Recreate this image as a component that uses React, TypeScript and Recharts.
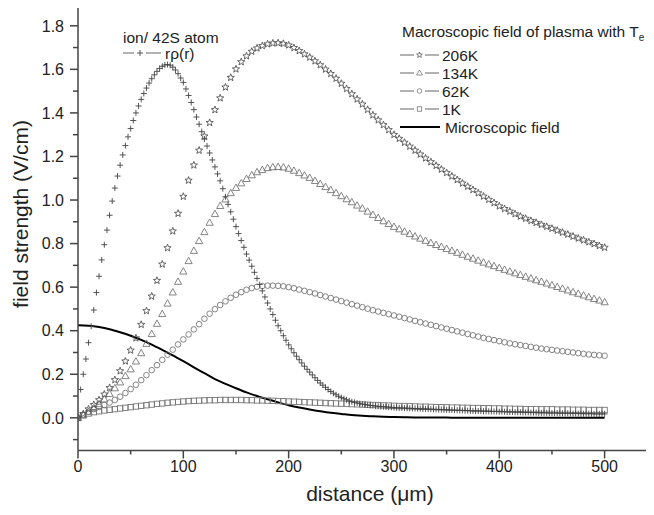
import React from 'react';
import { ComposedChart, Line, Scatter, XAxis, YAxis, ReferenceLine } from 'recharts';

// distance grids (µm)
const distanceFine = [
  0, 2.5, 5, 7.5, 10, 12.5, 15, 17.5, 20, 22.5,
  25, 27.5, 30, 32.5, 35, 37.5, 40, 42.5, 45, 47.5,
  50, 52.5, 55, 57.5, 60, 62.5, 65, 67.5, 70, 72.5,
  75, 77.5, 80, 82.5, 85, 87.5, 90, 92.5, 95, 97.5,
  100, 102.5, 105, 107.5, 110, 112.5, 115, 117.5, 120, 122.5,
  125, 127.5, 130, 132.5, 135, 137.5, 140, 142.5, 145, 147.5,
  150, 152.5, 155, 157.5, 160, 162.5, 165, 167.5, 170, 172.5,
  175, 177.5, 180, 182.5, 185, 187.5, 190, 192.5, 195, 197.5,
  200, 202.5, 205, 207.5, 210, 212.5, 215, 217.5, 220, 222.5,
  225, 227.5, 230, 232.5, 235, 237.5, 240, 242.5, 245, 247.5,
  250, 252.5, 255, 257.5, 260, 262.5, 265, 267.5, 270, 272.5,
  275, 277.5, 280, 282.5, 285, 287.5, 290, 292.5, 295, 297.5,
  300, 302.5, 305, 307.5, 310, 312.5, 315, 317.5, 320, 322.5,
  325, 327.5, 330, 332.5, 335, 337.5, 340, 342.5, 345, 347.5,
  350, 352.5, 355, 357.5, 360, 362.5, 365, 367.5, 370, 372.5,
  375, 377.5, 380, 382.5, 385, 387.5, 390, 392.5, 395, 397.5,
  400, 402.5, 405, 407.5, 410, 412.5, 415, 417.5, 420, 422.5,
  425, 427.5, 430, 432.5, 435, 437.5, 440, 442.5, 445, 447.5,
  450, 452.5, 455, 457.5, 460, 462.5, 465, 467.5, 470, 472.5,
  475, 477.5, 480, 482.5, 485, 487.5, 490, 492.5, 495, 497.5,
  500,
];

const distance = [
  0, 5, 10, 15, 20, 25, 30, 35, 40, 45,
  50, 55, 60, 65, 70, 75, 80, 85, 90, 95,
  100, 105, 110, 115, 120, 125, 130, 135, 140, 145,
  150, 155, 160, 165, 170, 175, 180, 185, 190, 195,
  200, 205, 210, 215, 220, 225, 230, 235, 240, 245,
  250, 255, 260, 265, 270, 275, 280, 285, 290, 295,
  300, 305, 310, 315, 320, 325, 330, 335, 340, 345,
  350, 355, 360, 365, 370, 375, 380, 385, 390, 395,
  400, 405, 410, 415, 420, 425, 430, 435, 440, 445,
  450, 455, 460, 465, 470, 475, 480, 485, 490, 495,
  500,
];

const distanceLine = [
  0, 10, 20, 30, 40, 50, 60, 70, 80, 90,
  100, 110, 120, 130, 140, 150, 160, 170, 180, 190,
  200, 210, 220, 230, 240, 250, 260, 270, 280, 290,
  300, 310, 320, 330, 340, 350, 360, 370, 380, 390,
  400, 410, 420, 430, 440, 450, 460, 470, 480, 490,
  500,
];

// r·ρ(r) for ion / 42S atom (on distanceFine)
const rhoR = [
  0, 0.13, 0.2, 0.27, 0.345, 0.42, 0.495, 0.575, 0.65, 0.725,
  0.795, 0.862, 0.93, 0.995, 1.055, 1.11, 1.16, 1.207, 1.25, 1.29,
  1.328, 1.365, 1.4, 1.432, 1.462, 1.489, 1.514, 1.537, 1.557, 1.575,
  1.591, 1.604, 1.614, 1.62, 1.622, 1.619, 1.61, 1.597, 1.58, 1.56,
  1.54, 1.51, 1.48, 1.448, 1.415, 1.381, 1.348, 1.314, 1.28, 1.248,
  1.216, 1.184, 1.152, 1.12, 1.088, 1.052, 1.015, 0.98, 0.946, 0.912,
  0.878, 0.846, 0.814, 0.783, 0.752, 0.724, 0.696, 0.668, 0.64, 0.612,
  0.583, 0.555, 0.527, 0.5, 0.474, 0.448, 0.423, 0.4, 0.377, 0.356,
  0.335, 0.317, 0.299, 0.283, 0.267, 0.252, 0.237, 0.223, 0.21, 0.197,
  0.184, 0.172, 0.16, 0.15, 0.14, 0.13, 0.121, 0.113, 0.106, 0.099,
  0.093, 0.088, 0.083, 0.078, 0.074, 0.071, 0.068, 0.065, 0.063, 0.061,
  0.059, 0.057, 0.056, 0.054, 0.053, 0.052, 0.051, 0.05, 0.049, 0.048,
  0.047, 0.046, 0.046, 0.045, 0.045, 0.044, 0.044, 0.043, 0.043, 0.042,
  0.042, 0.041, 0.041, 0.04, 0.04, 0.039, 0.039, 0.038, 0.038, 0.037,
  0.037, 0.036, 0.036, 0.035, 0.035, 0.034, 0.034, 0.033, 0.033, 0.032,
  0.032, 0.031, 0.031, 0.031, 0.03, 0.03, 0.03, 0.029, 0.029, 0.029,
  0.028, 0.028, 0.028, 0.027, 0.027, 0.027, 0.026, 0.026, 0.026, 0.025,
  0.025, 0.025, 0.024, 0.024, 0.024, 0.023, 0.023, 0.023, 0.023, 0.022,
  0.022, 0.022, 0.022, 0.021, 0.021, 0.021, 0.021, 0.02, 0.02, 0.02,
  0.02, 0.019, 0.019, 0.019, 0.019, 0.019, 0.018, 0.018, 0.018, 0.018,
  0.018,
];

// Macroscopic field, Te = 206K (on distance)
const field206K = [
  0, 0.018, 0.04, 0.06, 0.082, 0.108, 0.138, 0.174, 0.215, 0.26,
  0.31, 0.366, 0.428, 0.491, 0.558, 0.63, 0.705, 0.78, 0.857, 0.938,
  1.016, 1.09, 1.16, 1.228, 1.293, 1.355, 1.414, 1.468, 1.518, 1.562,
  1.601, 1.634, 1.661, 1.682, 1.697, 1.708, 1.716, 1.72, 1.721, 1.718,
  1.711, 1.699, 1.685, 1.67, 1.655, 1.638, 1.62, 1.6, 1.58, 1.558,
  1.535, 1.511, 1.487, 1.463, 1.44, 1.415, 1.39, 1.367, 1.345, 1.322,
  1.3, 1.282, 1.264, 1.246, 1.228, 1.21, 1.192, 1.175, 1.158, 1.141,
  1.125, 1.109, 1.093, 1.077, 1.062, 1.047, 1.032, 1.017, 1.002, 0.987,
  0.972, 0.96, 0.948, 0.936, 0.925, 0.915, 0.905, 0.896, 0.887, 0.878,
  0.869, 0.86, 0.851, 0.842, 0.833, 0.824, 0.816, 0.807, 0.799, 0.79,
  0.782,
];

// Te = 134K
const field134K = [
  0, 0.012, 0.028, 0.045, 0.063, 0.085, 0.11, 0.136, 0.163, 0.192,
  0.223, 0.259, 0.297, 0.34, 0.385, 0.432, 0.477, 0.525, 0.576, 0.625,
  0.672, 0.72, 0.767, 0.812, 0.853, 0.896, 0.936, 0.973, 1.003, 1.032,
  1.056, 1.077, 1.097, 1.114, 1.128, 1.138, 1.147, 1.151, 1.152, 1.15,
  1.144, 1.135, 1.124, 1.113, 1.102, 1.088, 1.074, 1.06, 1.046, 1.032,
  1.018, 1.004, 0.99, 0.975, 0.961, 0.947, 0.932, 0.918, 0.903, 0.89,
  0.877, 0.866, 0.855, 0.844, 0.833, 0.823, 0.813, 0.803, 0.794, 0.785,
  0.776, 0.767, 0.758, 0.749, 0.74, 0.731, 0.722, 0.713, 0.705, 0.697,
  0.688, 0.68, 0.672, 0.664, 0.656, 0.648, 0.64, 0.632, 0.625, 0.617,
  0.609, 0.601, 0.593, 0.585, 0.577, 0.57, 0.562, 0.554, 0.546, 0.539,
  0.531,
];

// Te = 62K
const field62K = [
  0, 0.014, 0.028, 0.04, 0.05, 0.059, 0.07, 0.082, 0.097, 0.114,
  0.132, 0.152, 0.173, 0.196, 0.219, 0.242, 0.266, 0.29, 0.313, 0.337,
  0.36, 0.383, 0.406, 0.43, 0.455, 0.478, 0.499, 0.518, 0.535, 0.551,
  0.565, 0.577, 0.588, 0.596, 0.602, 0.605, 0.607, 0.607, 0.606, 0.604,
  0.6, 0.595, 0.589, 0.583, 0.577, 0.571, 0.564, 0.557, 0.55, 0.543,
  0.536, 0.529, 0.522, 0.515, 0.508, 0.501, 0.494, 0.488, 0.482, 0.476,
  0.47, 0.464, 0.458, 0.452, 0.445, 0.439, 0.433, 0.427, 0.421, 0.415,
  0.409, 0.403, 0.397, 0.391, 0.385, 0.379, 0.373, 0.367, 0.362, 0.357,
  0.352, 0.347, 0.342, 0.338, 0.334, 0.33, 0.326, 0.322, 0.318, 0.315,
  0.312, 0.309, 0.306, 0.303, 0.3, 0.297, 0.294, 0.291, 0.289, 0.287,
  0.285,
];

// Te = 1K
const field1K = [
  0, 0.012, 0.02, 0.026, 0.03, 0.034, 0.037, 0.04, 0.043, 0.046,
  0.049, 0.052, 0.055, 0.058, 0.061, 0.064, 0.066, 0.069, 0.071, 0.073,
  0.075, 0.077, 0.078, 0.079, 0.08, 0.081, 0.081, 0.082, 0.082, 0.082,
  0.082, 0.082, 0.081, 0.081, 0.08, 0.08, 0.079, 0.078, 0.077, 0.076,
  0.075, 0.074, 0.073, 0.072, 0.071, 0.07, 0.069, 0.068, 0.067, 0.066,
  0.065, 0.064, 0.063, 0.062, 0.061, 0.06, 0.059, 0.058, 0.057, 0.056,
  0.055, 0.054, 0.054, 0.053, 0.052, 0.051, 0.051, 0.05, 0.049, 0.049,
  0.048, 0.047, 0.047, 0.046, 0.046, 0.045, 0.045, 0.044, 0.044, 0.043,
  0.043, 0.042, 0.042, 0.041, 0.041, 0.04, 0.04, 0.04, 0.039, 0.039,
  0.039, 0.038, 0.038, 0.038, 0.037, 0.037, 0.037, 0.036, 0.036, 0.036,
  0.036,
];

// Microscopic field (on distanceLine)
const microField = [
  0.425, 0.423, 0.417, 0.407, 0.393, 0.377, 0.358, 0.336, 0.312, 0.287,
  0.26, 0.232, 0.205, 0.178, 0.156, 0.136, 0.117, 0.1, 0.085, 0.071,
  0.058, 0.047, 0.038, 0.03, 0.023, 0.018, 0.013, 0.01, 0.007, 0.005,
  0.004, 0.003, 0.002, 0.001, 0.001, 0.001, 0.0005, 0.0005, 0.0005, 0.0005,
  0.0005, 0.0005, 0.0005, 0.0005, 0.0005, 0.0005, 0.0005, 0.0005, 0.0005, 0.0005,
  0.0005,
];

const yTicks = [-0.1, 0, 0.1, 0.2, 0.3, 0.4, 0.5, 0.6, 0.7, 0.8, 0.9, 1.0, 1.1, 1.2, 1.3, 1.4, 1.5, 1.6, 1.7, 1.8];
const xTicks = [0, 50, 100, 150, 200, 250, 300, 350, 400, 450, 500];

const legendTitle = 'Macroscopic field of plasma with T';
const legendLabels = ['206K', '134K', '62K', '1K', 'Microscopic field'];
const atomTitle = 'ion/ 42S atom';
const atomLabel = 'rρ(r)';

const toPoints = (xs: number[], ys: number[]) => ys.map((y, i) => ({ x: xs[i], y }));

const FONT = '"Liberation Sans", Arial, Helvetica, sans-serif';
const AXIS = '#444';
const TEXT = '#222';
const MARK = '#777';

const starPath = (cx: number, cy: number, R: number, r: number) => {
  let d = '';
  for (let i = 0; i < 10; i++) {
    const rad = i % 2 === 0 ? R : r;
    const a = -Math.PI / 2 + (i * Math.PI) / 5;
    d += (i === 0 ? 'M' : 'L') + (cx + rad * Math.cos(a)).toFixed(2) + ',' + (cy + rad * Math.sin(a)).toFixed(2);
  }
  return d + 'Z';
};

const StarMark = ({ cx, cy }: any) => (
  <path d={starPath(cx, cy, 3.8, 1.6)} fill="none" stroke="#555" strokeWidth={0.9} />
);
const TriMark = ({ cx, cy }: any) => (
  <path d={`M${cx},${cy - 3.8}L${cx + 3.6},${cy + 2.6}L${cx - 3.6},${cy + 2.6}Z`} fill="none" stroke={MARK} strokeWidth={0.9} />
);
const CircMark = ({ cx, cy }: any) => (
  <circle cx={cx} cy={cy} r={2.8} fill="none" stroke={MARK} strokeWidth={0.9} />
);
const SqMark = ({ cx, cy }: any) => (
  <rect x={cx - 2.7} y={cy - 2.7} width={5.4} height={5.4} fill="none" stroke={MARK} strokeWidth={0.9} />
);
const CrossMark = ({ cx, cy }: any) => (
  <path d={`M${cx - 3},${cy}H${cx + 3}M${cx},${cy - 3}V${cy + 3}`} fill="none" stroke="#444" strokeWidth={0.9} />
);

const YTick = (props: any) => {
  const { x, y, payload } = props;
  const v = payload.value as number;
  const major = Math.round(v * 10) % 2 === 0;
  return (
    <g>
      <line x1={x - (major ? 8 : 5)} x2={x} y1={y} y2={y} stroke={AXIS} strokeWidth={1.5} />
      {major && (
        <text x={x - 14} y={y} dy="0.36em" textAnchor="end" fontFamily={FONT} fontSize={16} fill={TEXT}>
          {v.toFixed(1)}
        </text>
      )}
    </g>
  );
};

const XTick = (props: any) => {
  const { x, y, payload } = props;
  const v = payload.value as number;
  const major = v % 100 === 0;
  return (
    <g>
      <line x1={x} x2={x} y1={y} y2={y + (major ? 8 : 4)} stroke={AXIS} strokeWidth={1.5} />
      {major && (
        <text x={x} y={y + 16} dy="0.36em" textAnchor="middle" fontFamily={FONT} fontSize={16} fill={TEXT}>
          {v}
        </text>
      )}
    </g>
  );
};

export default function App() {
  const d206 = toPoints(distance, field206K);
  const d134 = toPoints(distance, field134K);
  const d62 = toPoints(distance, field62K);
  const d1 = toPoints(distance, field1K);
  const dRho = toPoints(distanceFine, rhoR);
  const dMicro = toPoints(distanceLine, microField);

  const rowY = [55, 73, 91, 109, 127];

  return (
    <div style={{ position: 'relative', width: 654, height: 515, margin: '-8px 0 0 -8px', background: '#fff' }}>
      <ComposedChart width={654} height={515} margin={{ top: 4, right: 2, bottom: 14, left: 8 }}>
        <XAxis
          dataKey="x"
          type="number"
          domain={[0, 545]}
          ticks={xTicks}
          interval={0}
          allowDataOverflow
          tickSize={0}
          tickMargin={0}
          tickLine={false}
          tick={<XTick />}
          axisLine={{ stroke: AXIS, strokeWidth: 1.5 }}
          height={50.5}
          label={{
            content: () => (
              <text x={370} y={493} dy="0.36em" textAnchor="middle" fontFamily={FONT} fontSize={21} fill={TEXT}>
                distance (μm)
              </text>
            ),
          }}
        />
        <YAxis
          dataKey="y"
          type="number"
          domain={[-0.15, 1.9]}
          ticks={yTicks}
          interval={0}
          allowDataOverflow
          tickSize={0}
          tickMargin={0}
          tickLine={false}
          tick={<YTick />}
          axisLine={{ stroke: AXIS, strokeWidth: 1.5 }}
          width={70}
          label={{
            content: () => (
              <text
                x={20}
                y={214}
                dy="0.36em"
                textAnchor="middle"
                transform="rotate(-90 20 214)"
                fontFamily={FONT}
                fontSize={21}
                fill={TEXT}
              >
                field strength (V/cm)
              </text>
            ),
          }}
        />
        <ReferenceLine y={1.9} stroke={AXIS} strokeWidth={1.5} />
        <Scatter data={d1} dataKey="y" shape={<SqMark />} isAnimationActive={false} />
        <Scatter data={d62} dataKey="y" shape={<CircMark />} isAnimationActive={false} />
        <Scatter data={d134} dataKey="y" shape={<TriMark />} isAnimationActive={false} />
        <Scatter data={d206} dataKey="y" shape={<StarMark />} isAnimationActive={false} />
        <Scatter data={dRho} dataKey="y" shape={<CrossMark />} isAnimationActive={false} />
        <Line
          data={dMicro}
          dataKey="y"
          type="monotone"
          stroke="#000"
          strokeWidth={2}
          dot={false}
          isAnimationActive={false}
        />
      </ComposedChart>

      <svg width={654} height={515} style={{ position: 'absolute', left: 0, top: 0, pointerEvents: 'none' }}>
        <g fontFamily={FONT} fontSize={15.5} fill={TEXT}>
          <text x={402} y={37}>
            {legendTitle}
            <tspan dy={4} fontSize={10}>e</tspan>
          </text>
          {legendLabels.map((lab, i) => {
            const y = rowY[i];
            const last = i === legendLabels.length - 1;
            return (
              <g key={lab}>
                {last ? (
                  <line x1={400} x2={440} y1={y} y2={y} stroke="#000" strokeWidth={2} />
                ) : (
                  <g>
                    <line x1={400} x2={414} y1={y} y2={y} stroke="#666" strokeWidth={1} />
                    <line x1={425} x2={439} y1={y} y2={y} stroke="#666" strokeWidth={1} />
                    {i === 0 && <path d={starPath(419.5, y, 3, 1.3)} fill="none" stroke="#555" strokeWidth={0.8} />}
                    {i === 1 && <path d={`M419.5,${y - 3}L422.5,${y + 2}L416.5,${y + 2}Z`} fill="none" stroke={MARK} strokeWidth={0.8} />}
                    {i === 2 && <circle cx={419.5} cy={y} r={2.3} fill="none" stroke={MARK} strokeWidth={0.8} />}
                    {i === 3 && <rect x={417.3} y={y - 2.2} width={4.4} height={4.4} fill="none" stroke={MARK} strokeWidth={0.8} />}
                  </g>
                )}
                <text x={last ? 445 : 442} y={y} dy="0.36em">{lab}</text>
              </g>
            );
          })}
          <text x={123} y={37} dy="0.36em">{atomTitle}</text>
          <line x1={123} x2={134} y1={53} y2={53} stroke="#666" strokeWidth={1} />
          <line x1={146} x2={161} y1={53} y2={53} stroke="#666" strokeWidth={1} />
          <path d="M137,53H143M140,50V56" fill="none" stroke="#444" strokeWidth={0.9} />
          <text x={165} y={53} dy="0.36em">{atomLabel}</text>
        </g>
      </svg>
    </div>
  );
}
